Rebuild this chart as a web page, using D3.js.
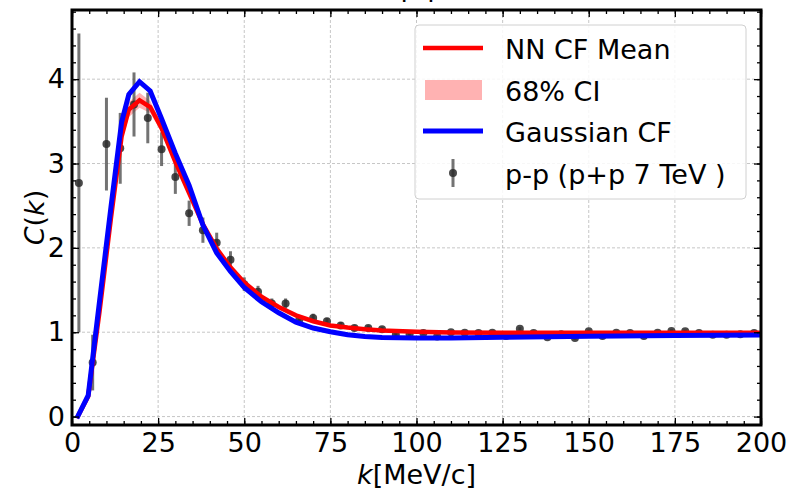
<!DOCTYPE html>
<html>
<head>
<meta charset="utf-8">
<script src="https://cdn.jsdelivr.net/npm/d3@7"></script>
<style>
  body { margin: 0; background: #fff; }
  text { font-family: "DejaVu Sans", sans-serif; }
</style>
</head>
<body>
<svg id="svg" width="795" height="490"></svg>
<script>
// measured points (k in MeV/c)
var dataK = [2,6,10,14,18,22,26,30,34,38,42,46,50,54,58,62,66,70,74,78,82,86,90,94,98,
             102,106,110,114,118,122,126,130,134,138,142,146,150,154,158,162,166,170,174,178,182,186,190,194,198];
var dataC = [2.77,0.64,3.23,3.18,3.70,3.54,3.17,2.84,2.41,2.21,2.06,1.86,1.57,1.48,1.34,1.34,1.15,1.17,1.13,1.08,
             1.05,1.05,1.035,0.97,0.975,0.99,0.95,1.00,0.995,0.99,0.995,0.956,1.04,0.99,0.94,0.975,0.93,1.01,0.956,0.995,
             0.99,0.956,0.995,1.015,1.01,0.99,0.97,0.97,0.976,0.99];
var dataErr = [1.77,0.33,0.55,0.42,0.38,0.30,0.20,0.20,0.15,0.15,0.12,0.10,0.08,0.07,0.06,0.06,0.05,0.05,0.04,0.04,
               0.03,0.03,0.03,0.03,0.03,0.02,0.02,0.02,0.02,0.02,0.02,0.02,0.02,0.02,0.02,0.02,0.02,0.02,0.02,0.02,
               0.02,0.02,0.02,0.02,0.02,0.02,0.02,0.02,0.02,0.02];

// model curves
var modelK  = [1.4,4.7,8,11.3,14.4,16.5,19.6,22.7,26,30,34,38,42,46,50,55,60,65,70,75,80,85,90,100,110,125,150,175,200];
var nnMean  = [-0.02,0.24,1.25,2.35,3.32,3.64,3.75,3.67,3.42,3.02,2.65,2.28,1.99,1.77,1.59,1.42,1.30,1.20,1.13,1.08,
               1.055,1.035,1.02,1.005,0.998,0.995,0.993,0.993,0.993];
var nnHalf  = [0.01,0.02,0.04,0.05,0.07,0.09,0.09,0.07,0.05,0.04,0.03,0.03,0.02,0.02,0.02,0.02,0.02,0.02,0.02,0.02,
               0.02,0.02,0.02,0.02,0.02,0.02,0.02,0.02,0.02];
var gaussCF = [-0.02,0.25,1.37,2.48,3.49,3.82,3.97,3.86,3.53,3.12,2.74,2.27,1.94,1.72,1.53,1.36,1.23,1.12,1.05,1.005,
               0.97,0.95,0.937,0.93,0.932,0.94,0.952,0.96,0.966];

var xTicks = [0,25,50,75,100,125,150,175,200];
var yTicks = [0,1,2,3,4];
var legendLabels = ["NN CF Mean", "68% CI", "Gaussian CF", "p-p (p+p 7 TeV )"];

var svg = d3.select("#svg");
var pLeft = 72, pRight = 761, pTop = 10, pBottom = 425;

var x = d3.scaleLinear().domain([0,200]).range([pLeft,pRight]);
var y = d3.scaleLinear().domain([-0.1,4.82]).range([pBottom,pTop]);

// title (cut off at the top in the original, only its descenders show)
svg.append("text").attr("x", 455).attr("y", -4).attr("text-anchor","end")
  .style("font-size","27px").text("C(k) [p-p]");

// grid
var grid = svg.append("g");
grid.selectAll(".gx").data(xTicks).enter().append("line")
  .attr("x1", function(d){ return x(d); }).attr("x2", function(d){ return x(d); })
  .attr("y1", pTop).attr("y2", pBottom)
  .attr("stroke","#b8b8b8").attr("stroke-width",0.8).attr("stroke-dasharray","3,2");
grid.selectAll(".gy").data(yTicks).enter().append("line")
  .attr("x1", pLeft).attr("x2", pRight)
  .attr("y1", function(d){ return y(d); }).attr("y2", function(d){ return y(d); })
  .attr("stroke","#b8b8b8").attr("stroke-width",0.8).attr("stroke-dasharray","3,2");

// plot area clip
svg.append("clipPath").attr("id","clip").append("rect")
  .attr("x",pLeft).attr("y",pTop).attr("width",pRight-pLeft).attr("height",pBottom-pTop);
var plot = svg.append("g").attr("clip-path","url(#clip)");

var idx = d3.range(modelK.length);

// CI band
var band = d3.area()
  .x(function(i){ return x(modelK[i]); })
  .y0(function(i){ return y(nnMean[i] - nnHalf[i]); })
  .y1(function(i){ return y(nnMean[i] + nnHalf[i]); });
plot.append("path").datum(idx).attr("d", band)
  .attr("fill","#ff0000").attr("fill-opacity",0.3);

// error bars + points
var pts = d3.range(dataK.length);
plot.selectAll(".eb").data(pts).enter().append("line")
  .attr("x1", function(i){ return x(dataK[i]); }).attr("x2", function(i){ return x(dataK[i]); })
  .attr("y1", function(i){ return y(dataC[i] - dataErr[i]); })
  .attr("y2", function(i){ return y(dataC[i] + dataErr[i]); })
  .attr("stroke","#444").attr("stroke-opacity",0.75).attr("stroke-width",3);
plot.selectAll(".pt").data(pts).enter().append("circle")
  .attr("cx", function(i){ return x(dataK[i]); })
  .attr("cy", function(i){ return y(dataC[i]); })
  .attr("r", 4).attr("fill","#2a2a2a").attr("fill-opacity",0.85);

// model lines
var lineNN = d3.line().x(function(i){ return x(modelK[i]); }).y(function(i){ return y(nnMean[i]); });
var lineG = d3.line().x(function(i){ return x(modelK[i]); }).y(function(i){ return y(gaussCF[i]); });
plot.append("path").datum(idx).attr("d", lineNN)
  .attr("fill","none").attr("stroke","#ff0000").attr("stroke-width",4.5);
plot.append("path").datum(idx).attr("d", lineG)
  .attr("fill","none").attr("stroke","#0000ff").attr("stroke-width",5);

// axes, ticks inward on all sides
var xMinor = d3.range(0,201,5), yMinor = d3.range(0,4.81,0.2).map(function(d){ return +d.toFixed(1); });

function styleAxis(g){
  g.select(".domain").remove();
  g.selectAll(".tick line").attr("stroke","#000").attr("stroke-width",1.3);
  g.selectAll("text").style("font-size","27px").style("font-family","DejaVu Sans").attr("fill","#000");
}

svg.append("g").attr("transform","translate(0,"+pBottom+")")
  .call(d3.axisBottom(x).tickValues(xMinor).tickSize(-4).tickFormat("")).call(styleAxis);
svg.append("g").attr("transform","translate(0,"+pBottom+")")
  .call(d3.axisBottom(x).tickValues(xTicks).tickSize(-7).tickPadding(8).tickFormat(d3.format("d"))).call(styleAxis);
svg.append("g").attr("transform","translate(0,"+pTop+")")
  .call(d3.axisTop(x).tickValues(xMinor).tickSize(-4).tickFormat("")).call(styleAxis);
svg.append("g").attr("transform","translate(0,"+pTop+")")
  .call(d3.axisTop(x).tickValues(xTicks).tickSize(-7).tickFormat("")).call(styleAxis);

svg.append("g").attr("transform","translate("+pLeft+",0)")
  .call(d3.axisLeft(y).tickValues(yMinor).tickSize(-4).tickFormat("")).call(styleAxis);
svg.append("g").attr("transform","translate("+pLeft+",0)")
  .call(d3.axisLeft(y).tickValues(yTicks).tickSize(-7).tickPadding(7).tickFormat(d3.format("d"))).call(styleAxis);
svg.append("g").attr("transform","translate("+pRight+",0)")
  .call(d3.axisRight(y).tickValues(yMinor).tickSize(-4).tickFormat("")).call(styleAxis);
svg.append("g").attr("transform","translate("+pRight+",0)")
  .call(d3.axisRight(y).tickValues(yTicks).tickSize(-7).tickFormat("")).call(styleAxis);

// frame
svg.append("rect").attr("x",pLeft).attr("y",pTop).attr("width",pRight-pLeft).attr("height",pBottom-pTop)
  .attr("fill","none").attr("stroke","#000").attr("stroke-width",3);

// axis labels
var xl = svg.append("text").attr("x", (pLeft+pRight)/2).attr("y", 484).attr("text-anchor","middle")
  .style("font-size","27px");
xl.append("tspan").style("font-style","italic").text("k");
xl.append("tspan").text("[MeV/c]");

var yl = svg.append("text").attr("transform","translate(44,"+((pTop+pBottom)/2)+") rotate(-90)")
  .attr("text-anchor","middle").style("font-size","27px");
yl.append("tspan").style("font-style","italic").text("C");
yl.append("tspan").text("(");
yl.append("tspan").style("font-style","italic").text("k");
yl.append("tspan").text(")");

// legend
var lg = svg.append("g");
lg.append("rect").attr("x",415).attr("y",25).attr("width",331).attr("height",174).attr("rx",4)
  .attr("fill","#fff").attr("fill-opacity",0.85).attr("stroke","#d0d0d0").attr("stroke-width",1);
var rowY = [48, 90, 131, 173];
lg.append("line").attr("x1",423).attr("x2",483).attr("y1",rowY[0]).attr("y2",rowY[0])
  .attr("stroke","#ff0000").attr("stroke-width",4.5);
lg.append("rect").attr("x",425).attr("y",rowY[1]-10).attr("width",57).attr("height",20)
  .attr("fill","#ff0000").attr("fill-opacity",0.3);
lg.append("line").attr("x1",423).attr("x2",483).attr("y1",rowY[2]).attr("y2",rowY[2])
  .attr("stroke","#0000ff").attr("stroke-width",5);
lg.append("line").attr("x1",453).attr("x2",453).attr("y1",rowY[3]-14).attr("y2",rowY[3]+14)
  .attr("stroke","#444").attr("stroke-opacity",0.75).attr("stroke-width",3);
lg.append("circle").attr("cx",453).attr("cy",rowY[3]).attr("r",4).attr("fill","#2a2a2a").attr("fill-opacity",0.85);
lg.selectAll(".lt").data(legendLabels).enter().append("text")
  .attr("x",505).attr("y", function(d,i){ return rowY[i] + 11; })
  .style("font-size","27px").text(function(d){ return d; });
</script>
</body>
</html>
